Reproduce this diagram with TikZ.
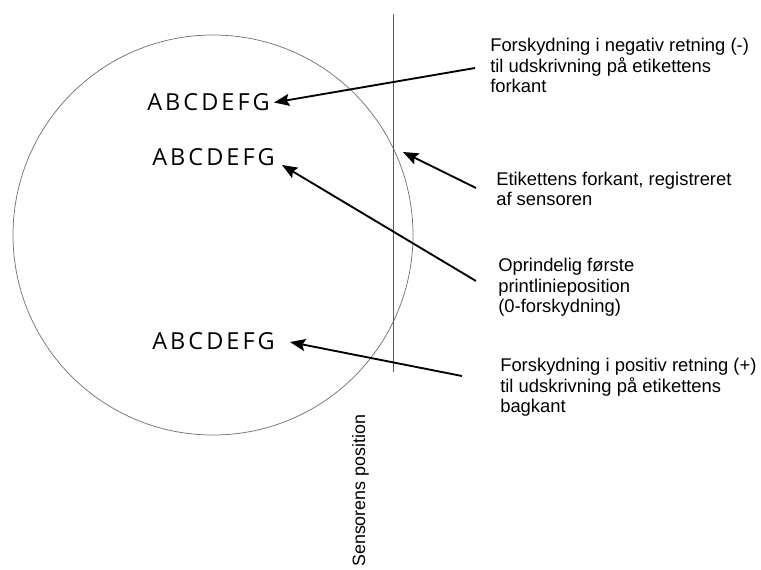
\documentclass[tikz,border=0pt]{standalone}
\usepackage{fontspec}
\setmainfont{Liberation Sans}
\newfontfamily\abcfont[LetterSpace=13]{Open Sans}
\usetikzlibrary{arrows.meta}
\tikzset{
  x=0.75pt, y=-0.75pt,
  lbl/.style={anchor=north west, inner sep=0pt, align=left,
    font=\fontsize{13.8pt}{15.4pt}\selectfont},
  abc/.style={anchor=west, inner sep=0pt, font=\abcfont\fontsize{17.6pt}{20pt}\selectfont},
  arr/.style={line width=1.4pt, -{Stealth[length=11.5pt, width=9pt, inset=2pt]}},
}
\begin{document}
\begin{tikzpicture}
\useasboundingbox (0,0) rectangle (761,569);
% circle and sensor line
\node[circle, draw=black!55, line width=0.55pt, minimum size=300pt, inner sep=0pt] (roll) at (213,235) {};
\coordinate (stop) at (393,14);
\coordinate (sbot) at (393,372);
\draw[black!65, line width=0.55pt] (stop) -- (sbot);
% print lines
\node[abc] (abc1) at (147,102.5) {ABCDEFG};
\node[abc] (abc2) at (152,157.5) {ABCDEFG};
\node[abc] (abc3) at (152,341) {ABCDEFG};
% labels
\node[lbl] (l1) at (490,38) {Forskydning i negativ retning (-)\\til udskrivning på etikettens\\forkant};
\node[lbl] (l2) at (496,171.5) {Etikettens forkant, registreret\\af sensoren};
\node[lbl] (l3) at (498,258) {Oprindelig første\\printlinieposition\\(0-forskydning)};
\node[lbl] (l4) at (500,358) {Forskydning i positiv retning (+)\\til udskrivning på etikettens\\bagkant};
\node[anchor=base west, rotate=90, inner sep=0pt, font=\fontsize{13.4pt}{15.4pt}\selectfont] (sens) at (365,567) {Sensorens position};
% arrow ends
\coordinate (s1) at (475,68);
\coordinate (s2) at (476,188);
\coordinate (s3) at (476,281);
\coordinate (s4) at (462,376);
\coordinate (edge) at (403,152);
\draw[arr] (s1) -- ([xshift=3pt]abc1.east);
\draw[arr] (s2) -- (edge);
\draw[arr] (s3) -- (282,165);
\draw[arr] (s4) -- (290,342);
\end{tikzpicture}
\end{document}
